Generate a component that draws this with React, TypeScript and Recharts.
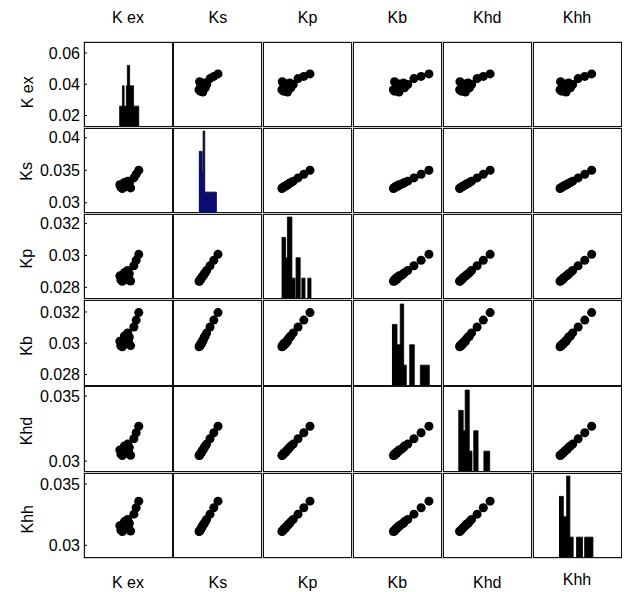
import React from 'react';
import { ScatterChart, Scatter, ComposedChart, Area, XAxis, YAxis } from 'recharts';

const NAMES = ['K ex', 'Ks', 'Kp', 'Kb', 'Khd', 'Khh'];

// one value per sample, same order in every array
const K_EX = [0.0365, 0.0416, 0.0356, 0.0392, 0.0372, 0.0402, 0.035, 0.0385, 0.0408, 0.0378, 0.0398, 0.0436, 0.045, 0.0466];
const K_S = [0.0322, 0.03228, 0.03237, 0.03248, 0.03256, 0.03268, 0.03276, 0.03287, 0.03298, 0.03312, 0.03332, 0.03382, 0.03438, 0.035];
const K_P = [0.02838, 0.0284, 0.02848, 0.0285, 0.0286, 0.02866, 0.02872, 0.02876, 0.02885, 0.02892, 0.02906, 0.02935, 0.0297, 0.03007];
const K_B = [0.02978, 0.02985, 0.02984, 0.03, 0.02996, 0.03014, 0.03012, 0.03028, 0.0304, 0.03046, 0.03066, 0.03104, 0.03148, 0.03196];
const K_HD = [0.03043, 0.03045, 0.03055, 0.03062, 0.03068, 0.0308, 0.03086, 0.03093, 0.03106, 0.03116, 0.03131, 0.03172, 0.03218, 0.03268];
const K_HH = [0.03112, 0.03116, 0.03124, 0.03136, 0.0314, 0.03154, 0.0316, 0.03171, 0.0318, 0.03193, 0.03211, 0.03254, 0.03306, 0.0336];

// axis ranges and ticks per variable
const DOMAINS = [[0.013, 0.067], [0.0285, 0.0415], [0.0273, 0.0326], [0.0273, 0.0327], [0.0292, 0.0357], [0.029, 0.0359]];
const TICKS = [[0.02, 0.04, 0.06], [0.03, 0.035, 0.04], [0.028, 0.03, 0.032], [0.028, 0.03, 0.032], [0.03, 0.035], [0.03, 0.035]];

// histogram bins (edges) and counts for the diagonal
const H_KEX_EDGES = [0.0346, 0.0366, 0.0376, 0.039, 0.0396, 0.041, 0.0434, 0.0466];
const H_KEX_COUNTS = [1, 2, 1, 2, 3, 2, 1];
const H_KS_EDGES = [0.03217, 0.03266, 0.0328, 0.03304, 0.03476];
const H_KS_COUNTS = [3, 2, 4, 1];
const H_KP_EDGES = [0.02836, 0.0286, 0.02871, 0.02898, 0.02917, 0.02923, 0.02948, 0.02958, 0.02977, 0.02994, 0.03013];
const H_KP_COUNTS = [3, 2, 4, 1, 0, 2, 0, 1, 0, 1];
const H_KB_EDGES = [0.02969, 0.03, 0.0302, 0.03041, 0.03057, 0.03078, 0.03106, 0.03143, 0.03198];
const H_KB_COUNTS = [3, 2, 4, 1, 0, 2, 0, 1];
const H_KHD_EDGES = [0.03033, 0.03069, 0.03084, 0.03114, 0.03134, 0.03147, 0.03179, 0.03222, 0.03265];
const H_KHD_COUNTS = [3, 2, 4, 1, 0, 2, 0, 1];
const H_KHH_EDGES = [0.03104, 0.03138, 0.03164, 0.03189, 0.03215, 0.03241, 0.03288, 0.03305, 0.0337];
const H_KHH_COUNTS = [3, 2, 4, 1, 0, 1, 0, 1];

const VALUES = [K_EX, K_S, K_P, K_B, K_HD, K_HH];
const HISTS = [
  [H_KEX_EDGES, H_KEX_COUNTS],
  [H_KS_EDGES, H_KS_COUNTS],
  [H_KP_EDGES, H_KP_COUNTS],
  [H_KB_EDGES, H_KB_COUNTS],
  [H_KHD_EDGES, H_KHD_COUNTS],
  [H_KHH_EDGES, H_KHH_COUNTS],
];

const FONT = 'Liberation Sans, Arial, Helvetica, sans-serif';
const GRID_L = 84;
const GRID_T = 42;
const STEP_X = 89.8;
const STEP_Y = 86.2;
const PW = 88;
const PH = 84.5;
const ROW_LABEL_DY = [8, 1, 2, 3, 2, 4];

const tickLine = { stroke: '#000', strokeWidth: 1 };

const Panel = ({ row, col }: { row: number; col: number }) => {
  const x0 = GRID_L + col * STEP_X;
  const y0 = GRID_T + row * STEP_Y;
  const leftW = col === 0 ? 84 : 1;
  const w = PW + leftW + 1;
  const h = PH + 2;
  const diag = row === col;

  const axes = [
    <XAxis key="xb" xAxisId="b" type="number" dataKey="x" domain={DOMAINS[col]} ticks={TICKS[col]} orientation="bottom"
      height={1} tick={false} tickSize={-3} axisLine={false} tickLine={tickLine} allowDataOverflow />,
    <XAxis key="xt" xAxisId="t" type="number" dataKey="x" domain={DOMAINS[col]} ticks={TICKS[col]} orientation="top"
      height={1} tick={false} tickSize={-3} axisLine={false} tickLine={tickLine} allowDataOverflow />,
    <YAxis key="yl" yAxisId="l" type="number" dataKey="y" domain={DOMAINS[row]} ticks={TICKS[row]} orientation="left"
      width={leftW} tick={col === 0 ? { fill: '#000', fontSize: 16, fontFamily: FONT } : false}
      tickFormatter={(v: number) => String(v)} tickSize={-3} tickMargin={7} axisLine={false} tickLine={tickLine} allowDataOverflow />,
    <YAxis key="yr" yAxisId="r" type="number" dataKey="y" domain={DOMAINS[row]} ticks={TICKS[row]} orientation="right"
      width={1} tick={false} tickSize={-3} axisLine={false} tickLine={tickLine} allowDataOverflow />,
  ];

  let chart;
  if (diag) {
    const [edges, counts] = HISTS[row];
    const histData = edges.map((e, i) => ({ x: e, n: i < counts.length ? counts[i] : 0 }));
    chart = (
      <ComposedChart width={w} height={h} data={histData} margin={{ top: 0, right: 0, bottom: 0, left: 0 }}>
        {axes}
        <YAxis yAxisId="c" type="number" domain={[0, 4.15]} width={0} hide allowDataOverflow />
        <Area xAxisId="b" yAxisId="c" type="stepAfter" dataKey="n" baseValue={0}
          fill={row === 1 ? '#0c0c72' : '#000'} fillOpacity={1}
          stroke="#000" strokeWidth={0.8}
          dot={false} activeDot={false} isAnimationActive={false} />
      </ComposedChart>
    );
  } else {
    const pts = VALUES[col].map((v, i) => ({ x: v, y: VALUES[row][i] }));
    chart = (
      <ScatterChart width={w} height={h} margin={{ top: 0, right: 0, bottom: 0, left: 0 }}>
        {axes}
        <Scatter xAxisId="b" yAxisId="l" data={pts} fill="#000" isAnimationActive={false} />
      </ScatterChart>
    );
  }

  return (
    <>
      <div style={{ position: 'absolute', left: x0, top: y0, width: PW, height: PH, background: '#fff' }} />
      <div style={{ position: 'absolute', left: x0 - leftW, top: y0 - 1 }}>{chart}</div>
      <div style={{
        position: 'absolute', left: x0 - 0.5, top: y0 - 0.5, width: PW + 1, height: PH + 1,
        border: '1.6px solid #111', boxSizing: 'border-box', pointerEvents: 'none',
      }} />
    </>
  );
};

export default function App() {
  const cells = [];
  for (let r = 0; r < 6; r++) {
    for (let c = 0; c < 6; c++) cells.push(<Panel key={`${r}-${c}`} row={r} col={c} />);
  }
  const gridW = STEP_X * 5 + PW;
  const gridH = STEP_Y * 5 + PH;
  return (
    <div style={{ position: 'absolute', left: 0, top: 0, width: 631, height: 592, background: '#fff', overflow: 'hidden' }}>
      <div style={{ position: 'absolute', left: GRID_L - 1, top: GRID_T - 1, width: gridW + 2, height: gridH + 2, background: '#cfcfcf' }} />
      {cells}
      <svg width={631} height={592} style={{ position: 'absolute', left: 0, top: 0, pointerEvents: 'none' }}>
        {NAMES.map((n, i) => {
          const cx = GRID_L + i * STEP_X + PW / 2;
          const cy = GRID_T + i * STEP_Y + PH / 2 + ROW_LABEL_DY[i];
          return (
            <g key={n} fontFamily={FONT} fontSize={16} fill="#000">
              <text x={cx} y={17} textAnchor="middle" dominantBaseline="central">{n}</text>
              <text x={cx} y={i === 5 ? 579 : 582} textAnchor="middle" dominantBaseline="central">{n}</text>
              <text x={27} y={cy} textAnchor="middle" dominantBaseline="central" transform={`rotate(-90 27 ${cy})`}>{n}</text>
            </g>
          );
        })}
      </svg>
    </div>
  );
}
